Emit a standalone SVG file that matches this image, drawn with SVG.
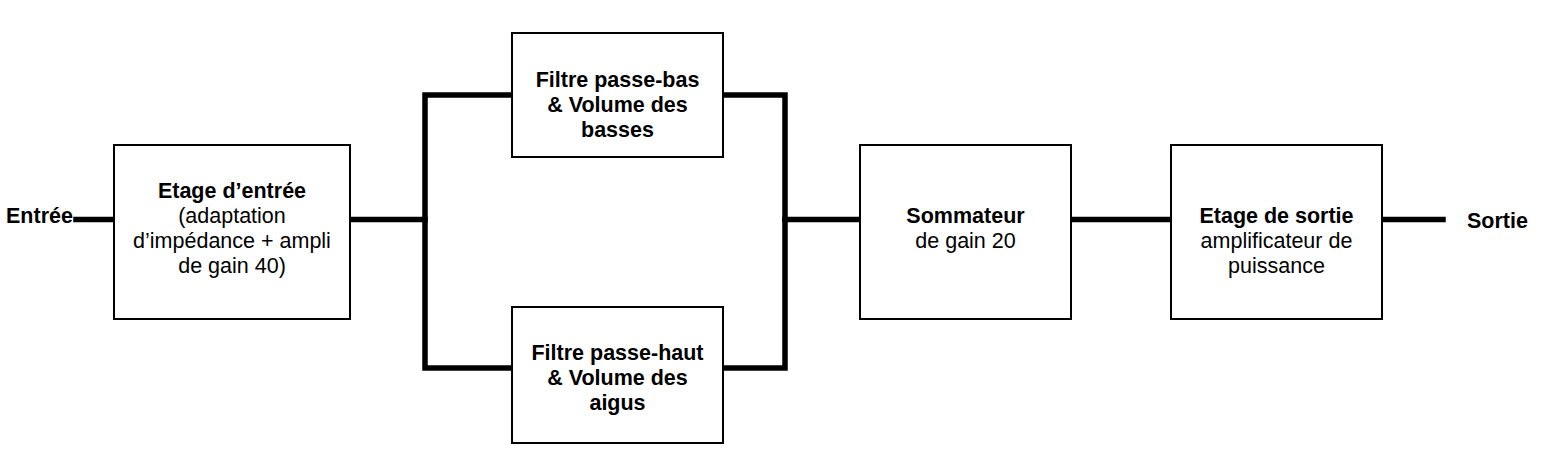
<svg xmlns="http://www.w3.org/2000/svg" width="1550" height="457" viewBox="0 0 1550 457">
<style>
.box{fill:#fff;stroke:#000;stroke-width:2}
.w{fill:none;stroke:#000;stroke-width:5.5;stroke-linecap:square}
text{font-family:"Liberation Sans",Arial,sans-serif;font-size:21.5px;fill:#000;text-anchor:middle}
.b{font-weight:bold}
</style>
<rect width="1550" height="457" fill="#fff"/>
<g id="connectors">
<line class="w" x1="76" y1="219.5" x2="114" y2="219.5"/>
<line class="w" x1="350" y1="219.5" x2="425" y2="219.5"/>
<polyline class="w" points="512,95 425,95 425,368 512,368"/>
<polyline class="w" points="723,95 785,95 785,368 723,368"/>
<line class="w" x1="785" y1="219.5" x2="860" y2="219.5"/>
<line class="w" x1="1071" y1="219.5" x2="1171" y2="219.5"/>
<line class="w" x1="1382" y1="219.5" x2="1443" y2="219.5"/>
</g>
<g id="entree"><text class="b" x="6" y="223" style="text-anchor:start">Entrée</text></g>
<g id="etage-entree">
<rect class="box" x="114" y="145" width="236" height="174"/>
<text class="b" x="232" y="198">Etage d’entrée</text>
<text x="232" y="223">(adaptation</text>
<text x="232" y="248">d’impédance + ampli</text>
<text x="232" y="273">de gain 40)</text>
</g>
<g id="passe-bas">
<rect class="box" x="512" y="33" width="211" height="124"/>
<text class="b" x="617.5" y="87">Filtre passe-bas</text>
<text class="b" x="617.5" y="112">&amp; Volume des</text>
<text class="b" x="617.5" y="137">basses</text>
</g>
<g id="passe-haut">
<rect class="box" x="512" y="307" width="211" height="136"/>
<text class="b" x="617.5" y="360">Filtre passe-haut</text>
<text class="b" x="617.5" y="385">&amp; Volume des</text>
<text class="b" x="617.5" y="410">aigus</text>
</g>
<g id="sommateur">
<rect class="box" x="860" y="145" width="211" height="174"/>
<text class="b" x="965.5" y="223">Sommateur</text>
<text x="965.5" y="248">de gain 20</text>
</g>
<g id="etage-sortie">
<rect class="box" x="1171" y="145" width="211" height="174"/>
<text class="b" x="1276.5" y="223">Etage de sortie</text>
<text x="1276.5" y="248">amplificateur de</text>
<text x="1276.5" y="273">puissance</text>
</g>
<g id="sortie"><text class="b" x="1467" y="228" style="text-anchor:start">Sortie</text></g>
</svg>
